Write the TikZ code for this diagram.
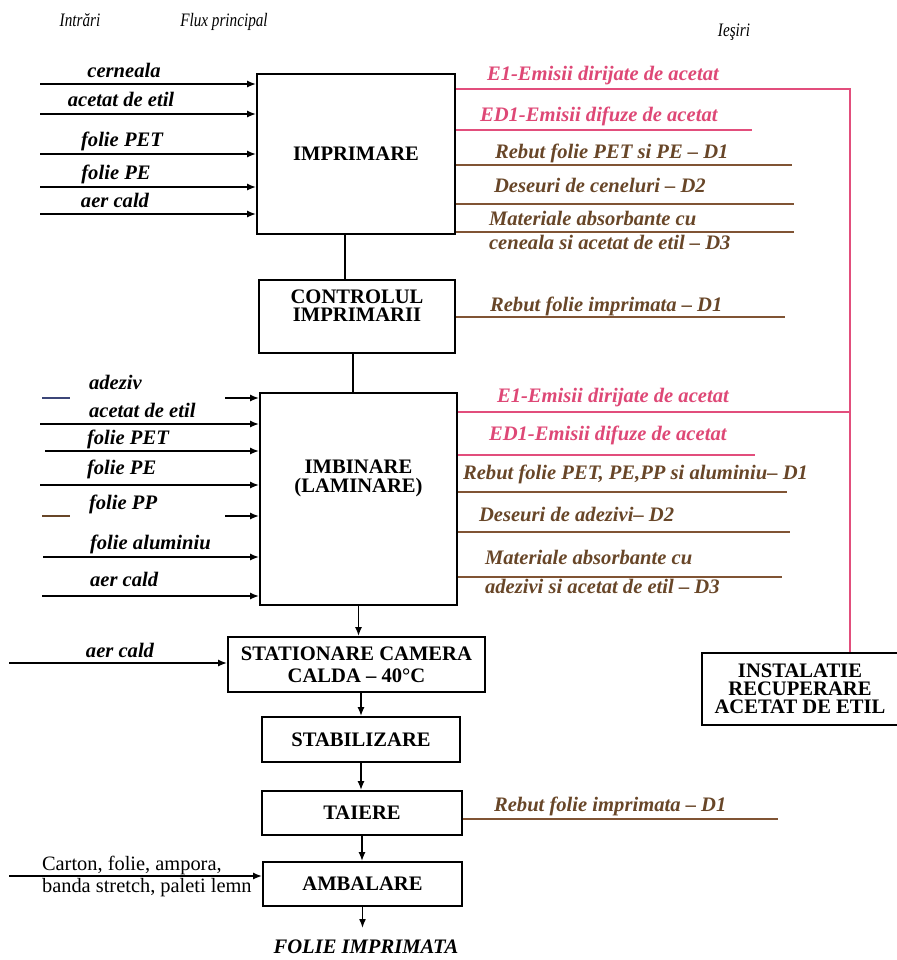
\documentclass[tikz,border=0pt]{standalone}
\usepackage{fontspec}
\setmainfont{Liberation Serif}
\newfontfamily\antetfont[FakeStretch=0.8]{Liberation Serif}
\usetikzlibrary{arrows.meta}

\definecolor{emisline}{RGB}{226,78,124}
\definecolor{emistext}{RGB}{222,72,118}
\definecolor{deseuline}{RGB}{128,84,52}
\definecolor{deseutext}{RGB}{104,70,40}
\definecolor{adezivline}{RGB}{60,70,120}

\begin{document}
\begin{tikzpicture}[
    x=0.5pt, y=-0.5pt, % picture measured in pixels, top-left origin
    >={Latex[length=4.5pt,width=3.5pt]}, % Small arrow tips into the boxes
    etapa/.style={draw, line width=0.9pt, inner sep=0pt, align=center,
        font=\fontsize{10.3}{9}\selectfont\bfseries},
    antet/.style={font=\antetfont\fontsize{9.5}{11}\selectfont\itshape},
    intrare/.style={anchor=mid, font=\fontsize{10.3}{12}\selectfont\bfseries\itshape},
    emisie/.style={anchor=mid west, text=emistext, font=\fontsize{10.3}{12}\selectfont\bfseries\itshape},
    deseu/.style={anchor=mid west, text=deseutext, align=left, font=\fontsize{10.3}{12}\selectfont\bfseries\itshape},
    fluxin/.style={line width=0.8pt},
    linieemis/.style={emisline, line width=0.9pt},
    liniedeseu/.style={deseuline, line width=1.1pt}
]

\useasboundingbox (0,0) rectangle (896,960);

% Column headers
\node[antet] (h-intrari) at (80,20) {Intrări};
\node[antet] (h-flux) at (224,22) {Flux principal};
\node[antet] (h-iesiri) at (734,32) {Ieşiri};

% Main flow boxes
\node[etapa, minimum width=99pt, minimum height=80pt] (imp) at (356,154) {IMPRIMARE};
\node[etapa, minimum width=98pt, minimum height=36.5pt] (ctrl) at (357,316.5) {};
\node[font=\fontsize{10.3}{9}\selectfont\bfseries, align=center] (ctrl-txt) at (357,306) {CONTROLUL\\IMPRIMARII};
\node[etapa, minimum width=98.5pt, minimum height=106pt] (imb) at (358.5,499) {};
\node[font=\fontsize{10.3}{9.5}\selectfont\bfseries, align=center] (imb-txt) at (358.5,478.5) {IMBINARE\\(LAMINARE)};
\node[etapa, font=\fontsize{10.3}{11}\selectfont\bfseries, minimum width=128.5pt, minimum height=27.5pt] (stat) at (356.5,664.5) {STATIONARE CAMERA\\CALDA -- 40°C};
\node[etapa, minimum width=99pt, minimum height=22.5pt] (stab) at (361,739.5) {STABILIZARE};
\node[etapa, minimum width=100pt, minimum height=22pt] (taie) at (362,813) {TAIERE};
\node[etapa, minimum width=99.5pt, minimum height=22pt] (amb) at (362.5,884) {AMBALARE};
\node[etapa, minimum width=98pt, minimum height=36pt] (inst) at (800,689) {INSTALATIE\\RECUPERARE\\ACETAT DE ETIL};
\node[font=\fontsize{10.3}{12}\selectfont\bfseries\itshape] (produs) at (366,947) {FOLIE IMPRIMATA};

% Main flow connectors
\draw[line width=0.8pt] ([xshift=-5.5pt]imp.south) -- ([xshift=-5.5pt]imp.south |- ctrl.north);
\draw[line width=0.8pt] ([xshift=-2pt]ctrl.south) -- ([xshift=-2pt]ctrl.south |- imb.north);
\draw[->, line width=0.8pt] (imb.south) -- (imb.south |- stat.north);
\draw[->, line width=0.8pt] (stab.north |- stat.south) -- (stab.north);
\draw[->, line width=0.8pt] (stab.south) -- (stab.south |- taie.north);
\draw[->, line width=0.8pt] (taie.south) -- (taie.south |- amb.north);
\coordinate (iesire-finala) at (362.5,928);
\draw[->, line width=0.8pt] (amb.south) -- (iesire-finala);

% Inputs - IMPRIMARE
\coordinate (i-cern) at (40,84);
\coordinate (i-acet) at (40,114);
\coordinate (i-pet) at (40,154);
\coordinate (i-pe) at (40,187);
\coordinate (i-aer) at (40,214);
\draw[->, fluxin] (i-cern) -- (imp.west |- i-cern);
\draw[->, fluxin] (i-acet) -- (imp.west |- i-acet);
\draw[->, fluxin] (i-pet) -- (imp.west |- i-pet);
\draw[->, fluxin] (i-pe) -- (imp.west |- i-pe);
\draw[->, fluxin] (i-aer) -- (imp.west |- i-aer);
\node[intrare] (l-cern) at (124,73) {cerneala};
\node[intrare] (l-acet) at (121,102) {acetat de etil};
\node[intrare] (l-pet) at (122,142) {folie PET};
\node[intrare] (l-pe) at (116,175) {folie PE};
\node[intrare] (l-aer) at (115,203) {aer cald};

% Outputs - IMPRIMARE and CONTROLUL
\coordinate (colt) at (850,89);
\coordinate (o-ed1) at (752,130);
\coordinate (o-reb) at (792,165);
\coordinate (o-des) at (794,204);
\coordinate (o-mat) at (794,232);
\coordinate (o-ctrl) at (785,317);
\draw[linieemis] (imp.east |- colt) -- (colt) -- (colt |- inst.north);
\draw[linieemis] (imp.east |- o-ed1) -- (o-ed1);
\draw[liniedeseu] (imp.east |- o-reb) -- (o-reb);
\draw[liniedeseu] (imp.east |- o-des) -- (o-des);
\draw[liniedeseu] (imp.east |- o-mat) -- (o-mat);
\draw[liniedeseu] (ctrl.east |- o-ctrl) -- (o-ctrl);
\node[emisie] (l-e1) at (480,76) {E1-Emisii dirijate de acetat};
\node[emisie] (l-ed1) at (473,117) {ED1-Emisii difuze de acetat};
\node[deseu] (l-reb) at (488,154) {Rebut folie PET si PE -- D1};
\node[deseu] (l-des) at (487,188) {Deseuri de ceneluri -- D2};
\node[deseu, anchor=west] (l-mat) at (482,230) {Materiale absorbante cu\\ceneala si acetat de etil -- D3};
\node[deseu] (l-ctrl) at (483,307) {Rebut folie imprimata -- D1};

% Inputs - IMBINARE
\coordinate (i-adz) at (42,398);
\coordinate (i-adz2) at (225,398);
\coordinate (i-acet2) at (40,424);
\coordinate (i-pet2) at (45,451);
\coordinate (i-pe2) at (40,485);
\coordinate (i-pp) at (42,516);
\coordinate (i-pp2) at (225,516);
\coordinate (i-alu) at (43,557);
\coordinate (i-aer2) at (42,596);
\draw[adezivline, line width=0.9pt] (i-adz) -- ++(28,0);
\draw[->, fluxin] (i-adz2) -- (imb.west |- i-adz2);
\draw[->, fluxin] (i-acet2) -- (imb.west |- i-acet2);
\draw[->, fluxin] (i-pet2) -- (imb.west |- i-pet2);
\draw[->, fluxin] (i-pe2) -- (imb.west |- i-pe2);
\draw[deseutext, line width=0.9pt] (i-pp) -- ++(28,0);
\draw[->, fluxin] (i-pp2) -- (imb.west |- i-pp2);
\draw[->, fluxin] (i-alu) -- (imb.west |- i-alu);
\draw[->, fluxin] (i-aer2) -- (imb.west |- i-aer2);
\node[intrare, anchor=mid west] (l-adz) at (82,385) {adeziv};
\node[intrare, anchor=mid west] (l-acet2) at (82,413) {acetat de etil};
\node[intrare, anchor=mid west] (l-pet2) at (80,440) {folie PET};
\node[intrare, anchor=mid west] (l-pe2) at (80,470) {folie PE};
\node[intrare, anchor=mid west] (l-pp) at (82,505) {folie PP};
\node[intrare, anchor=mid west] (l-alu) at (83,545) {folie aluminiu};
\node[intrare, anchor=mid west] (l-aer2) at (83,582) {aer cald};

% Outputs - IMBINARE
\coordinate (o-e1b) at (850,412);
\coordinate (o-ed1b) at (755,455);
\coordinate (o-rebb) at (787,492);
\coordinate (o-desb) at (790,532);
\coordinate (o-matb) at (782,577);
\draw[linieemis] (imb.east |- o-e1b) -- (o-e1b);
\draw[linieemis] (imb.east |- o-ed1b) -- (o-ed1b);
\draw[liniedeseu] (imb.east |- o-rebb) -- (o-rebb);
\draw[liniedeseu] (imb.east |- o-desb) -- (o-desb);
\draw[liniedeseu] (imb.east |- o-matb) -- (o-matb);
\node[emisie] (l-e1b) at (490,398) {E1-Emisii dirijate de acetat};
\node[emisie] (l-ed1b) at (482,436) {ED1-Emisii difuze de acetat};
\node[deseu] (l-rebb) at (456,475) {Rebut folie PET, PE,PP si aluminiu-- D1};
\node[deseu] (l-desb) at (472,517) {Deseuri de adezivi-- D2};
\node[deseu, anchor=west, font=\fontsize{10.3}{14.5}\selectfont\bfseries\itshape] (l-matb) at (478,572) {Materiale absorbante cu\\adezivi si acetat de etil -- D3};

% Lower stages: inputs and outputs
\coordinate (i-aer3) at (9,663);
\coordinate (i-amb) at (9,876);
\coordinate (o-taie) at (778,819);
\draw[->, fluxin] (i-aer3) -- (stat.west |- i-aer3);
\draw[->, fluxin] (i-amb) -- (amb.west |- i-amb);
\draw[liniedeseu] (taie.east |- o-taie) -- (o-taie);
\node[intrare] (l-aer3) at (120,653) {aer cald};
\node[anchor=west, align=left, font=\fontsize{10.2}{11}\selectfont] (l-amb) at (35,876) {Carton, folie, ampora,\\banda stretch, paleti lemn};
\node[deseu] (l-taie) at (487,807) {Rebut folie imprimata -- D1};

\end{tikzpicture}
\end{document}
